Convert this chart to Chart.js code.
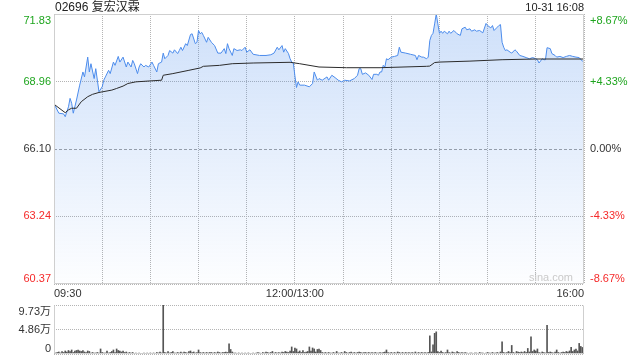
<!DOCTYPE html>
<html>
<head>
<meta charset="utf-8">
<script src="https://cdn.jsdelivr.net/npm/chart.js@4.4.1/dist/chart.umd.min.js"></script>
<style>
  html, body { margin: 0; padding: 0; background: #fff; }
  #wrap { position: relative; width: 640px; height: 360px; font-family: "Liberation Sans", Arial, "Noto Sans CJK SC", sans-serif; }
  #title { position: absolute; left: 55px; top: 0; font-size: 12px; line-height: 15px; color: #222; }
  #stamp { position: absolute; right: 56px; top: 0; font-size: 11px; line-height: 15px; color: #222; }
  #main { position: absolute; left: 0; top: 0; }
  #vol { position: absolute; left: 0; top: 300px; }
</style>
</head>
<body>
<div id="wrap">
  <canvas id="main" width="640" height="300"></canvas>
  <canvas id="vol" width="640" height="60"></canvas>
  <div id="title">02696 复宏汉霖</div>
  <div id="stamp">10-31 16:08</div>
</div>
<script>
// Data (minutes since 09:30, lunch break folded out: 150 = 12:00/13:00, 330 = 16:00)

const prevClose = 66.10;

const priceMin = [
  0, 1, 3, 6, 7, 9, 10, 11, 12, 14, 16, 18, 19, 21, 22, 23, 25, 26, 28, 30,
  31, 32, 34, 35, 37, 38, 40, 41, 43, 45, 46, 48, 49, 50, 52, 53, 54, 56, 57, 59,
  61, 62, 64, 65, 67, 68, 69, 71, 72, 74, 75, 77, 78, 79, 80, 82, 83, 85, 86, 88,
  89, 90, 91, 92, 93, 95, 96, 98, 100, 102, 104, 106, 107, 108, 109, 111, 112, 114, 116, 117,
  119, 120, 122, 124, 128, 132, 135, 137, 139, 140, 142, 143, 144, 146, 147, 148, 149, 150, 151, 152,
  153, 156, 159, 161, 162, 164, 165, 167, 170, 171, 173, 175, 177, 179, 181, 184, 187, 189, 190, 191,
  192, 194, 196, 198, 199, 201, 202, 203, 204, 205, 206, 207, 208, 210, 212, 214, 215, 216, 219, 222,
  225, 226, 227, 229, 230, 232, 233, 234, 235, 236, 237, 238, 239, 240, 241, 242, 243, 245, 246, 247,
  249, 251, 253, 254, 256, 257, 259, 260, 262, 263, 265, 267, 269, 270, 272, 273, 274, 276, 277, 278,
  279, 280, 281, 282, 284, 285, 287, 288, 290, 292, 294, 296, 298, 300, 301, 302, 304, 305, 306, 307,
  309, 310, 312, 313, 315, 317, 319, 321, 323, 325, 327, 329, 330
];

const price = [
  68.00, 67.89, 67.62, 67.59, 67.47, 67.89, 68.25, 68.04, 67.62, 68.18, 68.81, 69.37, 69.16, 70.00, 69.37, 69.72, 69.09, 69.51, 68.53, 68.74,
  69.02, 69.16, 69.44, 69.30, 69.79, 69.65, 70.03, 69.79, 70.00, 69.58, 69.79, 69.58, 69.86, 69.72, 69.30, 69.58, 69.72, 69.58, 69.65, 69.58,
  69.79, 69.65, 69.37, 69.72, 69.79, 70.17, 69.93, 70.07, 70.28, 70.17, 70.31, 70.15, 70.28, 70.42, 70.28, 70.57, 70.49, 70.96, 70.99, 70.57,
  70.63, 71.13, 70.99, 71.05, 70.92, 70.63, 70.84, 70.63, 70.49, 70.17, 70.17, 70.36, 70.15, 70.57, 70.36, 70.07, 70.36, 70.28, 70.31, 70.28,
  70.42, 70.21, 70.31, 70.12, 70.07, 70.07, 70.10, 70.17, 70.42, 70.31, 70.49, 70.21, 70.36, 70.15, 69.93, 69.79, 69.75, 69.20, 68.71, 68.95,
  68.81, 68.81, 68.74, 68.88, 69.37, 69.02, 69.09, 69.02, 69.16, 69.02, 69.23, 69.13, 69.02, 68.95, 69.02, 68.99, 69.09, 69.23, 69.51, 69.51,
  69.27, 69.33, 69.23, 69.05, 69.27, 69.27, 69.23, 69.37, 69.37, 69.65, 69.58, 69.93, 69.89, 70.00, 70.03, 70.07, 70.42, 70.21, 70.17, 70.12,
  70.07, 69.89, 70.07, 70.00, 70.00, 69.93, 70.00, 70.71, 70.92, 71.01, 71.41, 71.83, 71.41, 71.01, 71.10, 71.01, 71.10, 70.99, 71.10, 71.01,
  71.13, 70.99, 70.92, 71.20, 71.27, 71.16, 71.20, 71.10, 71.16, 71.10, 71.13, 71.03, 71.43, 71.34, 71.24, 71.34, 71.13, 71.27, 71.34, 71.38,
  70.63, 70.42, 70.28, 70.31, 70.21, 70.17, 70.31, 70.25, 70.07, 70.03, 69.98, 69.93, 69.98, 69.93, 69.89, 69.75, 69.93, 69.89, 69.89, 70.40,
  70.36, 70.15, 70.07, 70.00, 70.03, 69.98, 70.03, 70.07, 70.03, 70.00, 69.98, 69.83, 69.80
];

const avgMin = [0, 7, 9, 11, 14, 17, 21, 24, 28, 36, 39, 43, 46, 51, 60, 67, 68, 74, 84, 91,
  93, 103, 111, 124, 147, 153, 165, 182, 203, 232, 234, 237, 240, 259, 279, 300, 330];
const avgPrice = [68.00, 67.64, 67.76, 67.83, 67.83, 68.11, 68.32, 68.42, 68.50, 68.60, 68.67, 68.77, 68.88, 68.95, 68.99, 69.02, 69.23, 69.30, 69.44, 69.54,
  69.61, 69.65, 69.72, 69.75, 69.78, 69.72, 69.58, 69.55, 69.55, 69.61, 69.62, 69.77, 69.79, 69.83, 69.89, 69.92, 69.92];

// volume per minute, in 万 shares (index = minute)
const volume = [
  0.6, 0.2, 0.3, 0.4, 0.2, 0.5, 0.3, 0.6, 0.4, 0.7,
  0.5, 0.8, 0.3, 0.6, 0.7, 0.8, 0.6, 0.5, 0.7, 0.4,
  0.3, 0.6, 0.5, 0.2, 0.3, 0.2, 0.2, 0.3, 0.2, 1.0,
  0.3, 0.2, 0.2, 0.6, 0.2, 0.3, 0.5, 0.8, 0.3, 1.0,
  0.7, 0.6, 0.4, 0.6, 0.3, 0.4, 0.2, 0.3, 0.2, 0.3,
  0.1, 0.2, 0.1, 0.2, 0.1, 0.1, 0.2, 0.1, 0.2, 0.1,
  0.2, 0.1, 0.2, 0.1, 0.3, 0.2, 0.4, 0.2, 9.73, 0.3,
  0.2, 0.5, 0.2, 0.3, 0.5, 0.2, 0.2, 0.3, 0.2, 0.4,
  0.2, 0.4, 0.3, 0.2, 0.5, 0.6, 0.3, 0.4, 0.2, 0.3,
  0.8, 0.3, 0.2, 0.3, 0.2, 0.3, 0.2, 0.3, 0.3, 0.2,
  0.3, 0.2, 0.4, 0.3, 0.2, 0.3, 0.3, 0.4, 0.3, 2.0,
  0.9, 0.4, 0.2, 0.2, 0.1, 0.2, 0.1, 0.2, 0.1, 0.2,
  0.1, 0.2, 0.1, 0.1, 0.2, 0.1, 0.2, 0.3, 0.2, 0.1,
  0.3, 0.2, 0.4, 0.3, 0.2, 0.3, 0.5, 0.2, 0.3, 0.2,
  0.3, 0.2, 0.4, 0.3, 0.5, 0.4, 0.3, 0.6, 1.4, 0.5,
  1.2, 1.0, 0.4, 0.6, 0.3, 0.7, 0.3, 0.4, 0.5, 1.4,
  0.6, 1.2, 1.0, 0.4, 0.9, 1.0, 0.7, 0.3, 0.2, 0.3,
  0.2, 0.3, 0.2, 0.2, 0.3, 0.2, 0.5, 0.2, 0.2, 0.3,
  0.2, 0.5, 0.3, 0.2, 0.3, 0.4, 0.2, 0.3, 0.2, 0.3,
  0.4, 0.3, 0.2, 0.3, 0.3, 0.2, 0.3, 0.2, 0.3, 0.2,
  0.3, 0.2, 0.2, 0.3, 0.2, 0.3, 0.4, 0.8, 0.3, 0.2,
  0.3, 0.2, 0.3, 0.2, 0.4, 0.3, 0.2, 0.3, 0.2, 0.3,
  0.2, 0.3, 0.2, 0.3, 0.2, 0.4, 0.2, 0.3, 0.2, 0.3,
  0.2, 0.3, 0.2, 0.3, 3.6, 0.4, 1.8, 4.1, 4.4, 0.5,
  0.3, 0.6, 0.3, 0.2, 0.3, 0.8, 0.3, 0.2, 0.4, 0.3,
  0.2, 0.5, 0.3, 0.2, 0.3, 0.2, 0.3, 0.2, 0.1, 0.2,
  0.2, 0.1, 0.2, 0.2, 0.1, 0.3, 0.2, 0.2, 0.1, 0.2,
  0.3, 0.2, 0.2, 0.3, 0.2, 0.2, 0.3, 0.2, 0.4, 2.4,
  0.3, 0.2, 0.3, 0.5, 0.3, 1.7, 0.3, 0.2, 0.5, 0.4,
  0.3, 0.4, 0.3, 0.5, 0.3, 1.1, 0.4, 3.4, 0.5, 0.8,
  0.6, 1.0, 0.3, 0.2, 0.4, 0.3, 0.2, 5.7, 0.3, 0.4,
  0.3, 0.2, 0.4, 0.8, 0.3, 0.2, 0.3, 0.4, 0.3, 0.5,
  0.4, 0.6, 1.3, 0.5, 0.8, 1.0, 0.6, 2.1, 1.5, 1.3, 0.4
];

const priceTicks = [71.83, 68.96, 66.10, 63.24, 60.37];
const pctLabels  = ['+8.67%', '+4.33%', '0.00%', '-4.33%', '-8.67%'];
const volTicks   = [9.73, 4.86, 0];
const volLabels  = ['9.73万', '4.86万', '0'];
const timeTicks  = [0, 30, 60, 90, 120, 150, 180, 210, 240, 270, 300, 330];
const timeLabels = { 0: '09:30', 150: '12:00/13:00', 330: '16:00' };

// Style

const FONT = '"Liberation Sans", Arial, "Noto Sans CJK SC", sans-serif';
const GREEN = '#1ea51e';
const RED = '#f52a2a';
const TEXT = '#333';
const GRID = '#b4b4b4';
const FRAME = '#cfcfcf';

Chart.defaults.font.family = FONT;
Chart.defaults.font.size = 11;

const tickColor = v => v > prevClose + 0.001 ? GREEN : (v < prevClose - 0.001 ? RED : TEXT);
const isBase = c => c.tick && Math.abs(c.tick.value - prevClose) < 0.001;

// Plugins

// axis labels sit inside the band at top and bottom, like the original
const sideLabels = {
  id: 'sideLabels',
  afterDraw(chart, args, opts) {
    const { ctx, chartArea: a } = chart;
    const sc = chart.scales.y;
    ctx.save();
    ctx.font = '11px ' + FONT;
    opts.values.forEach((v, i) => {
      const y = sc.getPixelForValue(v);
      ctx.textBaseline = y <= a.top + 1 ? 'top' : (y >= a.bottom - 1 ? 'bottom' : 'middle');
      const yy = ctx.textBaseline === 'top' ? y + 1 : y;
      ctx.fillStyle = opts.colored ? tickColor(v) : TEXT;
      ctx.textAlign = 'right';
      ctx.fillText(opts.left[i], a.left - 3, yy);
      if (opts.right) {
        ctx.fillStyle = tickColor(v);
        ctx.textAlign = 'left';
        ctx.fillText(opts.right[i], a.right + 6, yy);
      }
    });
    if (opts.mark) {
      ctx.fillStyle = '#cacaca';
      ctx.textAlign = 'right';
      ctx.textBaseline = 'middle';
      ctx.fillText(opts.mark, a.right - 11, a.bottom - 6);
    }
    ctx.restore();
  }
};

const frame = {
  id: 'frame',
  afterDatasetsDraw(chart, args, opts) {
    const { ctx, chartArea: a } = chart;
    const l = Math.round(a.left) + 0.5, r = Math.round(a.right) - 0.5;
    const t = Math.round(a.top) + 0.5, b = Math.round(a.bottom) - 0.5;
    ctx.save();
    ctx.strokeStyle = FRAME;
    ctx.lineWidth = 1;
    ctx.beginPath();
    if (opts.top) { ctx.moveTo(l, t); ctx.lineTo(r, t); }
    ctx.moveTo(l, t); ctx.lineTo(l, b);
    ctx.lineTo(r, b);
    ctx.moveTo(r, t); ctx.lineTo(r, b);
    ctx.stroke();
    ctx.restore();
  }
};

// Price chart

const priceData = priceMin.map((m, i) => ({ x: m, y: price[i] }));
const avgData = avgMin.map((m, i) => ({ x: m, y: avgPrice[i] }));

new Chart(document.getElementById('main'), {
  type: 'line',
  data: {
    datasets: [{
      data: priceData,
      order: 1,
      borderColor: '#4c8cec',
      borderWidth: 1,
      pointRadius: 0,
      tension: 0,
      fill: 'start',
      backgroundColor: (c) => {
        const a = c.chart.chartArea;
        if (!a) return 'rgba(74,140,236,0.2)';
        const g = c.chart.ctx.createLinearGradient(0, a.top, 0, a.bottom);
        g.addColorStop(0, 'rgba(74,140,236,0.27)');
        g.addColorStop(1, 'rgba(74,140,236,0.01)');
        return g;
      }
    }, {
      data: avgData,
      order: 0,
      borderColor: '#2b2b2b',
      borderWidth: 1,
      pointRadius: 0,
      tension: 0,
      fill: false
    }]
  },
  options: {
    responsive: false,
    animation: false,
    events: [],
    layout: { padding: { top: 14, right: 56, left: 0, bottom: 0 } },
    plugins: {
      legend: { display: false },
      tooltip: { enabled: false },
      sideLabels: { values: priceTicks, left: priceTicks.map(v => v.toFixed(2)), right: pctLabels, colored: true, mark: 'sina.com' },
      frame: { top: true }
    },
    scales: {
      x: {
        type: 'linear',
        min: 0,
        max: 330,
        afterBuildTicks: s => { s.ticks = timeTicks.map(v => ({ value: v })); },
        afterFit: s => { s.height = 16; },
        ticks: {
          autoSkip: false,
          maxRotation: 0,
          align: 'inner',
          padding: 3,
          color: TEXT,
          font: { size: 11 },
          callback: v => timeLabels[v] || ''
        },
        grid: { color: GRID, drawTicks: false },
        border: { display: false, dash: [1, 1] }
      },
      y: {
        min: 60.37,
        max: 71.83,
        afterBuildTicks: s => { s.ticks = priceTicks.map(v => ({ value: v })); },
        afterFit: s => { s.width = 54; },
        ticks: { display: false },
        grid: {
          drawTicks: false,
          color: c => isBase(c) ? '#a0a0a0' : GRID
        },
        border: {
          display: false,
          dash: c => isBase(c) ? [3, 2] : [1, 1]
        }
      }
    }
  },
  plugins: [sideLabels, frame]
});

// Volume chart

new Chart(document.getElementById('vol'), {
  type: 'bar',
  data: {
    datasets: [{
      data: volume.map((v, i) => ({ x: i, y: v })),
      backgroundColor: '#555',
      barThickness: 1
    }]
  },
  options: {
    responsive: false,
    animation: false,
    events: [],
    layout: { padding: { top: 5, right: 56, left: 0, bottom: 6 } },
    plugins: {
      legend: { display: false },
      tooltip: { enabled: false },
      sideLabels: { values: volTicks, left: volLabels, colored: false },
      frame: { top: false }
    },
    scales: {
      x: { type: 'linear', min: 0, max: 330, offset: false, display: false },
      y: {
        min: 0,
        max: 9.73,
        afterBuildTicks: s => { s.ticks = volTicks.map(v => ({ value: v })); },
        afterFit: s => { s.width = 54; },
        ticks: { display: false },
        grid: { drawTicks: false, color: GRID },
        border: { display: false, dash: [1, 1] }
      }
    }
  },
  plugins: [sideLabels, frame]
});
</script>
</body>
</html>
